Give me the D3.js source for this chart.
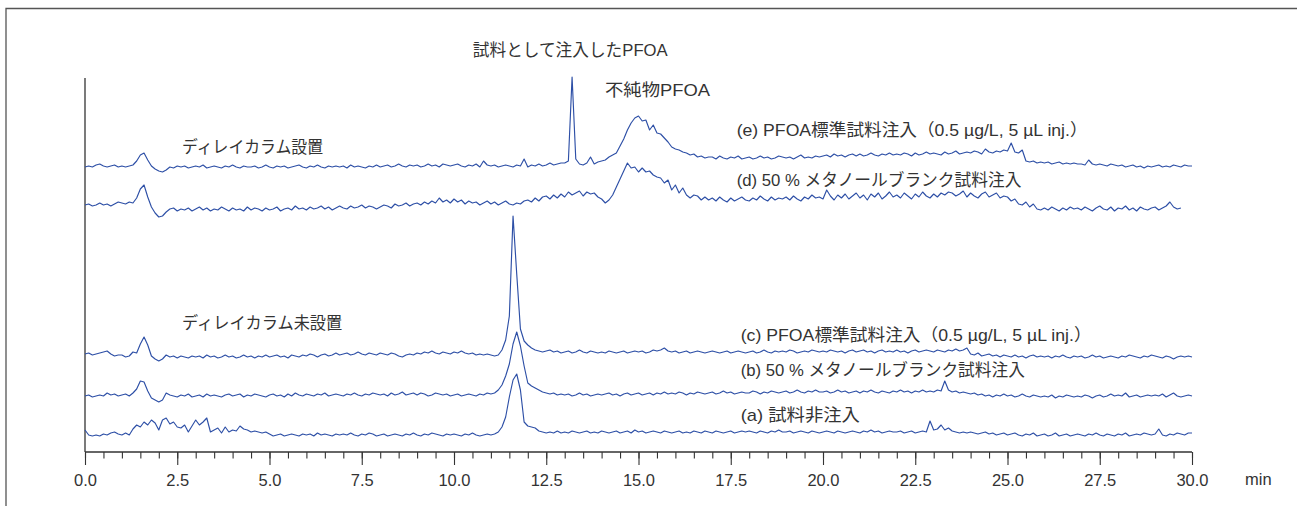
<!DOCTYPE html>
<html><head><meta charset="utf-8">
<script src="https://cdn.jsdelivr.net/npm/d3@7"></script>
<style>body{margin:0;background:#fff} svg{display:block}</style>
</head><body><svg id="chart" width="1297" height="506"></svg>
<script>
// ---- data (signal above each trace's own baseline, sampled every 0.1 min) ----
const timeStep = 0.1;
const traceNames = ["a", "b", "c", "d", "e"];
const traceOffsets = [17, 56, 98, 247, 285];

const seriesA = [
  5,0,-1,0,-1,1,0,2,3,1,  0,2,0,6,10,8,13,10,15,12,  5,15,17,11,13,8,7,10,3,9,  15,10,13,17,3,5,7,2,8,3,
  5,4,9,6,5,3,4,3,2,3,  1,-1,0,1,-1,0,1,0,-1,1,  0,1,-1,2,0,1,0,-1,1,0,  1,0,2,0,-1,1,0,2,1,-1,
  0,1,-1,0,1,0,-1,1,0,2,  0,-1,1,0,2,1,0,-1,1,0,  1,0,-1,1,0,2,0,-1,0,1,  0,1,3,8,18,38,55,61,45,13,
  9,8,7,4,3,2,3,2,4,2,  3,2,4,3,2,3,4,2,3,2,  4,3,2,3,4,2,3,4,2,5,  3,4,2,3,4,3,2,4,3,2,
  3,4,2,3,2,4,3,2,4,3,  2,4,3,2,3,4,2,3,4,3,  4,3,2,4,3,2,4,3,5,3,  3,4,2,3,4,3,2,4,3,2,
  3,4,3,2,4,3,2,3,4,3,  2,4,3,5,3,4,2,3,4,3,  3,4,2,3,4,2,3,4,3,14,  5,6,10,5,7,4,3,2,3,2,
  3,2,1,2,3,1,2,0,1,2,  0,1,2,0,-1,1,0,2,-1,0,  1,-1,0,2,-1,0,1,-1,0,1,  0,-1,1,0,2,0,-1,1,0,-1,
  1,0,2,-1,0,1,0,2,1,0,  1,6,0,-1,1,0,2,1,0,2,  2
];
const seriesB = [
  0,1,-1,0,1,0,3,1,2,0,  1,2,0,3,7,15,14,5,-2,-4,  -6,-4,3,1,0,-1,1,0,2,-1,  0,1,-1,2,0,1,0,-1,1,2,
  0,1,2,-1,1,0,2,1,0,-1,  1,2,0,1,-1,2,0,3,1,0,  2,1,0,2,1,3,0,1,2,1,  0,2,1,3,1,0,2,1,3,2,
  1,2,0,3,1,2,4,1,2,3,  1,3,2,0,1,3,2,1,2,0,  1,2,0,1,2,1,0,2,1,3,  2,3,6,11,20,32,52,64,50,30,
  13,10,8,6,4,3,2,3,1,2,  1,2,0,1,3,1,2,0,1,2,  1,2,3,1,2,0,2,3,1,2,  3,1,2,3,1,3,2,4,2,3,
  2,4,3,1,3,2,4,3,2,3,  4,2,3,5,3,4,2,3,4,3,  3,5,4,2,4,3,5,4,3,4,  5,3,4,6,4,3,5,4,6,4,
  4,5,3,4,6,4,5,3,4,5,  3,5,4,6,4,3,5,4,3,5,  4,6,4,5,3,5,4,6,4,5,  4,6,5,15,6,4,5,3,4,3,
  2,3,1,2,0,1,-1,1,0,2,  0,1,-1,0,2,0,-1,1,0,-1,  0,-1,1,-2,0,-1,1,0,-1,0,  -1,1,0,-2,0,1,-1,0,2,0,
  1,0,3,-1,0,1,-1,0,1,0,  1,0,2,-1,1,3,0,-1,0,1,  0
];
const seriesC = [
  0,1,-1,0,1,2,3,0,-2,-1,  -1,-3,-2,2,1,10,17,9,-2,-5,  -7,-5,-1,-3,-2,-4,-2,-3,-4,-2,  -3,-2,-4,-1,-3,-2,-4,-3,-1,-3,
  -2,-4,-3,-1,-3,-2,-4,-2,-3,-1,  -3,-2,-1,-3,-2,-4,-1,-2,-3,-1,  -2,0,-1,-3,-1,0,-2,-1,1,-1,  0,1,-1,0,2,0,-1,1,0,-1,
  1,0,-1,1,0,-2,-3,-1,0,-1,  1,0,2,1,3,1,0,2,1,0,  2,1,3,1,0,1,-1,0,-1,0,  -1,-2,-1,4,14,38,138,80,25,13,
  9,6,4,3,2,3,4,2,3,1,  2,3,1,2,4,2,1,3,2,1,  2,1,3,2,1,2,3,1,2,3,  2,3,1,2,4,3,4,6,3,2,
  3,1,2,3,1,2,3,2,1,2,  3,2,1,2,3,1,2,3,2,1,  2,3,1,2,4,2,1,3,2,3,  2,4,3,1,2,3,2,4,3,2,
  3,2,4,3,2,3,1,3,4,2,  3,4,2,3,1,3,4,2,3,2,  4,2,3,1,3,4,2,3,4,3,  2,4,3,2,4,3,5,3,4,6,
  0,-1,1,-2,-1,0,-2,-1,-3,-1,  -2,-3,-1,-3,-2,-4,-2,-1,-3,-2,  -3,-2,-4,-2,-3,-1,-3,-4,-2,-3,  -2,-4,-3,-1,-3,-2,-4,-3,-2,-3,
  -4,-2,-3,-1,-2,-3,-4,-2,-3,-1,  -2,-3,-4,-2,-3,-5,-3,-2,-3,-2,  -3
];
const seriesD = [
  0,1,-1,0,2,0,1,-1,1,3,  2,1,3,2,7,16,20,8,-2,-8,  -12,-11,-7,-4,-3,-6,-4,-5,-3,-6,  -4,-2,-5,-3,-6,-4,-5,-2,-4,-6,
  -3,-5,-4,-6,-2,-5,-3,-4,-6,-3,  -5,-4,-2,-6,-4,-3,-5,-1,-4,-3,  -5,-2,-4,-3,-1,-4,-2,-5,-3,-1,  -3,-4,-1,-3,-2,0,-3,-1,-2,-4,
  -2,0,-1,-3,1,-1,0,2,-1,1,  2,0,3,1,4,2,7,3,5,2,  6,3,5,1,4,2,3,0,2,4,  1,3,0,2,4,1,0,2,1,4,
  5,3,7,4,8,9,6,10,7,11,  8,13,10,12,14,9,13,11,12,8,  6,2,5,10,18,26,34,42,37,38,  33,37,33,34,30,28,27,22,25,15,
  20,12,17,10,7,10,9,5,8,5,  7,4,8,5,3,7,4,6,8,5,  4,7,5,9,6,4,8,5,7,6,  8,5,9,6,4,8,6,10,7,8,
  6,15,9,5,10,7,11,6,9,12,  7,10,5,11,8,12,6,9,13,8,  10,7,12,9,6,11,8,13,9,7,  11,8,12,10,13,12,9,11,14,8,
  12,9,7,11,13,8,10,12,7,9,  8,4,6,1,0,3,-2,1,-4,-5,  -3,-5,-2,-4,-6,-3,-5,-2,-4,-3,  -5,-2,-4,-6,-3,-1,-4,-5,-2,-6,
  -3,-4,-1,-5,-3,-6,-2,-4,-5,-3,  -2,-5,-3,-1,3,-2,-4,-3
];
const seriesE = [
  0,1,0,2,3,1,0,1,2,0,  1,0,1,2,6,12,14,7,1,-2,  -4,-5,-3,0,-1,1,0,1,-1,0,  1,0,2,-1,0,1,0,-1,1,0,
  2,0,-1,1,0,0,1,-1,0,2,  0,-1,1,0,1,-1,0,1,2,0,  -1,1,0,2,0,-1,1,0,1,0,  1,-1,2,0,1,0,-1,1,0,2,
  0,1,2,0,1,3,1,0,2,1,  2,0,1,3,1,2,0,3,2,1,  2,3,1,0,2,1,3,0,6,2,  1,2,0,1,2,1,0,2,1,8,
  0,2,1,3,1,2,4,2,3,4,  4,6,90,8,3,2,4,10,3,5,  6,7,10,12,14,21,28,37,44,49,  51,46,47,37,42,34,33,29,25,20,
  18,17,15,14,12,13,10,11,9,10,  10,8,11,9,8,10,9,11,8,9,  10,8,9,11,9,10,8,9,11,10,  9,10,8,10,12,9,10,9,11,10,
  11,12,10,13,11,12,10,12,13,11,  13,11,12,14,12,11,13,12,14,12,  13,12,14,13,11,14,12,13,15,13,  14,13,12,15,13,14,16,13,14,15,
  14,16,15,13,18,15,14,16,15,17,  16,24,15,14,17,6,5,6,4,5,  4,5,3,4,5,3,4,3,4,3,  3,2,7,3,2,3,2,1,3,2,
  1,2,0,1,2,0,1,-1,1,0,  1,2,0,1,0,2,1,0,2,1,  1
];
const traceSeries = [seriesA, seriesB, seriesC, seriesD, seriesE];

const xMajorTicks = [0, 2.5, 5, 7.5, 10, 12.5, 15, 17.5, 20, 22.5, 25, 27.5, 30];
const xMinorTicks = [0, 0.5, 1, 1.5, 2, 2.5, 3, 3.5, 4, 4.5, 5, 5.5, 6, 6.5, 7, 7.5, 8, 8.5, 9, 9.5,
  10, 10.5, 11, 11.5, 12, 12.5, 13, 13.5, 14, 14.5, 15, 15.5, 16, 16.5, 17, 17.5, 18, 18.5, 19, 19.5,
  20, 20.5, 21, 21.5, 22, 22.5, 23, 23.5, 24, 24.5, 25, 25.5, 26, 26.5, 27, 27.5, 28, 28.5, 29, 29.5, 30];
const xUnit = "min";

const annotationTexts = [
  "ディレイカラム設置",
  "試料として注入したPFOA",
  "不純物PFOA",
  "(e) PFOA標準試料注入（0.5 µg/L, 5 µL inj.）",
  "(d) 50 % メタノールブランク試料注入",
  "ディレイカラム未設置",
  "(c) PFOA標準試料注入（0.5 µg/L, 5 µL inj.）",
  "(b) 50 % メタノールブランク試料注入",
  "(a) 試料非注入"
];
// anchor of each annotation in data units [minutes, signal]
const annotationAnchors = [
  [2.63, 305], [10.51, 402], [14.09, 362], [17.66, 322], [17.66, 272],
  [2.63, 129], [17.77, 117], [17.77, 82], [17.77, 37]
];
// span of each annotation, in minutes
const annotationSpans = [3.82, 5.28, 2.85, 9.51, 7.72, 4.34, 9.51, 7.70, 3.23];

// ---- layout ----
const svg = d3.select("#chart");
const x = d3.scaleLinear().domain([0, 30]).range([85, 1192]);
const y = d3.scaleLinear().domain([0, 374]).range([452, 78]);
const ink = "#333";
const traceColor = "#2d4fa6";
const fontFamily = "'Liberation Sans', Arial, 'Noto Sans CJK JP', sans-serif";

// frame
svg.append("path").attr("d", "M6,506V8.5H1297").attr("fill", "none")
  .attr("stroke", "#555").attr("stroke-width", 1.3);

// y axis line
svg.append("line").attr("x1", x(0)).attr("x2", x(0))
  .attr("y1", y.range()[1]).attr("y2", y.range()[0])
  .attr("stroke", ink).attr("stroke-width", 1.3);

// x axis
const gx = svg.append("g").attr("transform", `translate(0,${y(0)})`);
gx.call(d3.axisBottom(x).tickValues(xMinorTicks).tickSize(6.5).tickFormat(""))
  .call(g => g.select(".domain").remove());
gx.append("g").call(d3.axisBottom(x).tickValues(xMajorTicks).tickSize(13)
    .tickFormat(d3.format(".1f")).tickPadding(9))
  .call(g => g.select(".domain").attr("stroke-width", 1.3).attr("d", `M${x(0)},0H${x(30)}`));
gx.selectAll("line").attr("stroke", ink).attr("stroke-width", 1.1);
gx.selectAll("text").attr("font-family", fontFamily).attr("font-size", 16.5)
  .attr("fill", ink);
gx.selectAll(".domain").attr("stroke", ink);
gx.append("text").attr("x", x(30) + 53).attr("y", 28).attr("dy", "0.32em")
  .attr("text-anchor", "start")
  .attr("font-family", fontFamily).attr("font-size", 16.5).attr("fill", ink).text(xUnit);

// traces
const line = d3.line().x(d => x(d[0])).y(d => y(d[1]));
traceSeries.forEach((vals, k) => {
  const pts = vals.map((v, i) => [i * timeStep, v + traceOffsets[k]]);
  svg.append("path").datum(pts).attr("d", line)
    .attr("fill", "none").attr("stroke", traceColor).attr("stroke-width", 1.15)
    .attr("stroke-linejoin", "round");
});

// annotations
svg.append("g").selectAll("text").data(annotationTexts).join("text")
  .attr("x", (d, i) => x(annotationAnchors[i][0]))
  .attr("y", (d, i) => y(annotationAnchors[i][1]))
  .attr("dy", "0.35em")
  .attr("textLength", (d, i) => x(annotationSpans[i]) - x(0))
  .attr("lengthAdjust", "spacingAndGlyphs")
  .attr("font-family", fontFamily).attr("font-size", 17).attr("fill", ink)
  .text(d => d);
</script></body></html>
